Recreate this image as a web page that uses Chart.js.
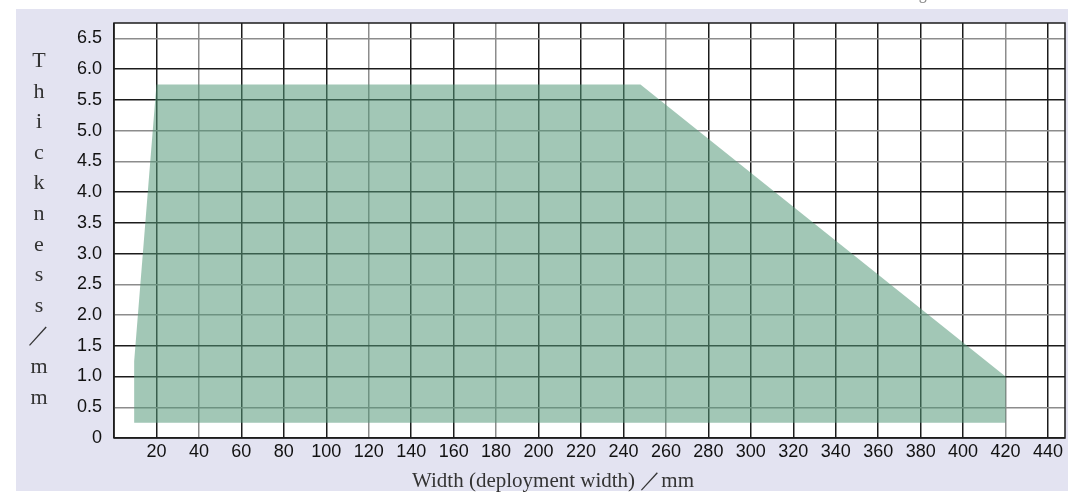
<!DOCTYPE html>
<html>
<head>
<meta charset="utf-8">
<script src="https://cdn.jsdelivr.net/npm/chart.js@4/dist/chart.umd.min.js"></script>
<style>
  html, body { margin: 0; padding: 0; background: #fff; }
  #wrap { width: 1068px; height: 493px; position: relative; }
</style>
</head>
<body>
<div id="wrap"><canvas id="rangeChart"></canvas></div>
<script>
// Workable range outline (width mm, thickness mm)
const outlineWidth = [9.5, 9.5, 20, 248, 420, 420];
const outlineThickness = [0.25, 1.25, 5.75, 5.75, 1.0, 0.25];

// Axis ticks
const xTicks = [20, 40, 60, 80, 100, 120, 140, 160, 180, 200, 220, 240, 260, 280, 300, 320, 340, 360, 380, 400, 420, 440];
const yTicks = [0, 0.5, 1.0, 1.5, 2.0, 2.5, 3.0, 3.5, 4.0, 4.5, 5.0, 5.5, 6.0, 6.5];
const yTickLabels = ['0', '0.5', '1.0', '1.5', '2.0', '2.5', '3.0', '3.5', '4.0', '4.5', '5.0', '5.5', '6.0', '6.5'];

// Grid lines that come out lighter in the original scan
const xLightLines = [40, 120, 180, 260, 420];
const yLightLines = [6.5, 5.0, 4.5, 2.5, 2.0, 0.5];

const yTitle = 'Thickness／mm';
const xTitle = 'Width (deployment width) ／mm';
const topNote = '※ Please consult us about thickness and width combinations outside the range shown in the chart.';

const DARK = '#1c1c1c';
const LIGHT = '#8c8c8c';

// Background panel, frame and the hand-placed titles
const decorPlugin = {
    id: 'decor',
    beforeDraw(chart) {
        const { ctx, chartArea } = chart;
        ctx.save();
        ctx.fillStyle = '#e3e3f1';
        ctx.fillRect(16, 9, chart.width - 16, 482);
        ctx.fillStyle = '#ffffff';
        ctx.fillRect(chartArea.left, chartArea.top, chartArea.right - chartArea.left, chartArea.bottom - chartArea.top);
        ctx.restore();
    },
    afterDraw(chart) {
        const { ctx, chartArea } = chart;
        ctx.save();
        ctx.strokeStyle = DARK;
        ctx.lineWidth = 1.5;
        ctx.strokeRect(chartArea.left, chartArea.top, chartArea.right - chartArea.left, chartArea.bottom - chartArea.top);

        ctx.fillStyle = '#333';
        ctx.font = '22px "Liberation Serif", serif';
        ctx.textAlign = 'center';
        ctx.textBaseline = 'alphabetic';
        Array.from(yTitle).forEach((ch, i) => {
            ctx.fillText(ch, 39, 67 + i * 30.6);
        });

        ctx.font = '21px "Liberation Serif", serif';
        ctx.textAlign = 'left';
        ctx.fillText(xTitle, 412, 487);

        ctx.fillStyle = '#888';
        ctx.font = '14px "Noto Sans CJK JP", sans-serif';
        ctx.textAlign = 'right';
        ctx.fillText(topNote, 1062, -1);
        ctx.restore();
    }
};

const ctx = document.getElementById('rangeChart');

new Chart(ctx, {
    type: 'scatter',
    data: {
        datasets: [{
            label: 'Range',
            data: outlineWidth.map((w, i) => ({ x: w, y: outlineThickness[i] })),
            showLine: true,
            fill: 'shape',
            backgroundColor: 'rgba(84, 152, 120, 0.54)',
            borderWidth: 0,
            pointRadius: 0,
            tension: 0
        }]
    },
    options: {
        responsive: true,
        maintainAspectRatio: false,
        animation: false,
        layout: { padding: { top: 23, right: 3, left: 0, bottom: 0 } },
        plugins: {
            legend: { display: false },
            tooltip: { enabled: false }
        },
        scales: {
            x: {
                type: 'linear',
                min: 0,
                max: 448,
                afterBuildTicks: (scale) => {
                    scale.ticks = [0].concat(xTicks).map(v => ({ value: v }));
                },
                afterFit: (scale) => { scale.height = 55; },
                border: { display: false },
                grid: {
                    drawTicks: false,
                    lineWidth: 1.5,
                    color: (c) => xLightLines.includes(c.tick && c.tick.value) ? LIGHT : DARK
                },
                ticks: {
                    padding: 3,
                    color: '#111',
                    font: { family: '"Liberation Sans", Arial, sans-serif', size: 18 },
                    callback: (v) => v === 0 ? '' : String(v)
                }
            },
            y: {
                type: 'linear',
                min: 0,
                max: 6.75,
                afterBuildTicks: (scale) => {
                    scale.ticks = yTicks.map(v => ({ value: v }));
                },
                afterFit: (scale) => { scale.width = 114; },
                border: { display: false },
                grid: {
                    drawTicks: false,
                    lineWidth: 1.5,
                    color: (c) => yLightLines.includes(c.tick && c.tick.value) ? LIGHT : DARK
                },
                ticks: {
                    padding: 12,
                    color: '#111',
                    font: { family: '"Liberation Sans", Arial, sans-serif', size: 18 },
                    callback: (v) => yTickLabels[yTicks.indexOf(v)] ?? ''
                }
            }
        }
    },
    plugins: [decorPlugin]
});
</script>
</body>
</html>
